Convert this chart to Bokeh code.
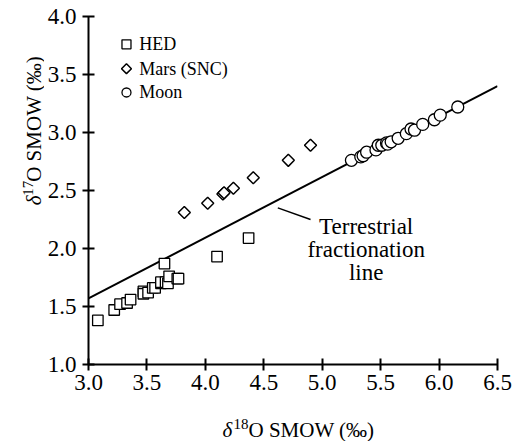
from math import pi

from bokeh.core.properties import value
from bokeh.embed import file_html
from bokeh.layouts import column, row
from bokeh.models import CustomJSTickFormatter, FixedTicker, Label, Range1d
from bokeh.plotting import figure
from bokeh.resources import INLINE

# Oxygen isotope compositions (per mil, relative to SMOW)
hed_d18 = [3.08, 3.22, 3.27, 3.33, 3.36, 3.47, 3.47, 3.51, 3.55, 3.57,
           3.62, 3.62, 3.66, 3.68, 3.69, 3.76, 3.77, 3.65, 4.10, 4.37]
hed_d17 = [1.38, 1.47, 1.52, 1.53, 1.56, 1.63, 1.61, 1.62, 1.66, 1.66,
           1.70, 1.71, 1.71, 1.70, 1.76, 1.74, 1.74, 1.87, 1.93, 2.09]

mars_d18 = [3.82, 4.02, 4.15, 4.16, 4.24, 4.41, 4.71, 4.90]
mars_d17 = [2.31, 2.39, 2.47, 2.48, 2.52, 2.61, 2.76, 2.89]

moon_d18 = [5.25, 5.33, 5.35, 5.38, 5.46, 5.48, 5.51, 5.55, 5.56, 5.59,
            5.65, 5.72, 5.76, 5.79, 5.86, 5.96, 6.01, 6.16]
moon_d17 = [2.76, 2.79, 2.80, 2.83, 2.85, 2.89, 2.89, 2.91, 2.90, 2.92,
            2.95, 2.99, 3.03, 3.02, 3.07, 3.11, 3.15, 3.22]

# Terrestrial fractionation line (slope ~0.52) across the plotted range
tfl_d18 = [3.0, 6.5]
tfl_d17 = [1.57, 3.40]

# Leader from the line to its label
leader_d18 = [4.62, 4.90]
leader_d17 = [2.35, 2.25]

x_ticks = [3.0, 3.5, 4.0, 4.5, 5.0, 5.5, 6.0, 6.5]
y_ticks = [1.0, 1.5, 2.0, 2.5, 3.0, 3.5, 4.0]

legend_names = ["HED", "Mars (SNC)", "Moon"]

SERIF = "Liberation Serif"
W, H = 512, 441
LEFT_STRIP = 44      # width of the strip holding the vertical axis title
MAIN_H = 400         # height of the main plot; x title strip sits below it

# ---------------------------------------------------------------- main plot
p = figure(width=W - LEFT_STRIP, height=MAIN_H, output_backend="svg",
           toolbar_location=None,
           x_range=Range1d(3.0, 6.5), y_range=Range1d(1.0, 4.0),
           min_border_left=43, min_border_right=15,
           min_border_top=16, min_border_bottom=36)
p.outline_line_color = None
p.grid.visible = False
p.background_fill_color = "white"
p.border_fill_color = "white"

fmt = CustomJSTickFormatter(code="return tick.toFixed(1);")
for ax, ticks in ((p.xaxis, x_ticks), (p.yaxis, y_ticks)):
    ax.ticker = FixedTicker(ticks=ticks)
    ax.formatter = fmt
    ax.minor_tick_line_color = None
    ax.major_tick_in = 6
    ax.major_tick_out = 6
    ax.major_tick_line_width = 2
    ax.major_tick_line_color = "black"
    ax.axis_line_width = 2
    ax.axis_line_color = "black"
    ax.major_label_text_font = SERIF
    ax.major_label_text_font_size = "23px"
    ax.major_label_text_color = "black"
p.xaxis.major_label_standoff = 4
p.yaxis.major_label_standoff = 6

# reference line and its leader
p.line(tfl_d18, tfl_d17, line_color="black", line_width=2)
p.line(leader_d18, leader_d17, line_color="black", line_width=1.5)

# data series
p.scatter(hed_d18, hed_d17, marker="square", size=10.5, fill_color="white",
          line_color="black", line_width=1.3)
p.scatter(mars_d18, mars_d17, marker="square", angle=pi / 4, size=8.5,
          fill_color="white", line_color="black", line_width=1.5)
p.scatter(moon_d18, moon_d17, marker="circle", size=12, fill_color="white",
          line_color="black", line_width=1.3)

# hand-placed legend
leg_x = 3.325
leg_ys = [3.76, 3.55, 3.345]
p.scatter([leg_x], [leg_ys[0]], marker="square", size=9, fill_color="white",
          line_color="black", line_width=1.3)
p.scatter([leg_x], [leg_ys[1]], marker="square", angle=pi / 4, size=7,
          fill_color="white", line_color="black", line_width=1.5)
p.scatter([leg_x], [leg_ys[2]], marker="circle", size=9, fill_color="white",
          line_color="black", line_width=1.3)
for name, ly in zip(legend_names, leg_ys):
    p.add_layout(Label(x=leg_x + 0.11, y=ly, text=name, text_font=SERIF,
                       text_font_size="18px", text_baseline="middle",
                       text_align="left", text_color="black"))

# label for the terrestrial line
for txt, ty in zip(["Terrestrial", "fractionation", "line"], [2.19, 1.99, 1.79]):
    p.add_layout(Label(x=5.376, y=ty, text=txt, text_font=SERIF,
                       text_font_size="23px", text_baseline="middle",
                       text_align="center", text_color="black"))


def strip(width, height):
    """Blank panel whose data coordinates are its own pixels (origin bottom-left)."""
    f = figure(width=width, height=height, output_backend="svg",
               toolbar_location=None, x_axis_location=None, y_axis_location=None,
               x_range=Range1d(0, width), y_range=Range1d(0, height),
               min_border=0, min_border_left=0, min_border_right=0,
               min_border_top=0, min_border_bottom=0, title=None)
    f.outline_line_color = None
    f.grid.visible = False
    f.border_fill_color = "white"
    f.background_fill_color = "white"
    return f


def write(f, x, y, s, size, italic=False, angle=0.0):
    f.text(x=[x], y=[y], text=[s], angle=angle,
           text_font=value(SERIF), text_font_size=value(size),
           text_font_style="italic" if italic else "normal",
           text_align="left", text_baseline="middle", text_color="black")


# ---------------------------------------------- y title strip (left of plot)
yt = strip(LEFT_STRIP, MAIN_H)
write(yt, 33, MAIN_H - 217, "δ", "21px", italic=True, angle=pi / 2)
write(yt, 27, MAIN_H - 206, "17", "15px", angle=pi / 2)
write(yt, 33, MAIN_H - 190, "O SMOW (‰)", "21px", angle=pi / 2)

# ---------------------------------------------- x title strip (full width)
XT_H = H - MAIN_H
xt = strip(W, XT_H)
mid = H - 429
write(xt, 222, mid, "δ", "21px", italic=True)
write(xt, 233, mid + 6, "18", "15px")
write(xt, 248, mid, "O SMOW (‰)", "21px")

layout = column(row(yt, p, spacing=0), xt, spacing=0)

open("out.html", "w").write(file_html(layout, INLINE))
